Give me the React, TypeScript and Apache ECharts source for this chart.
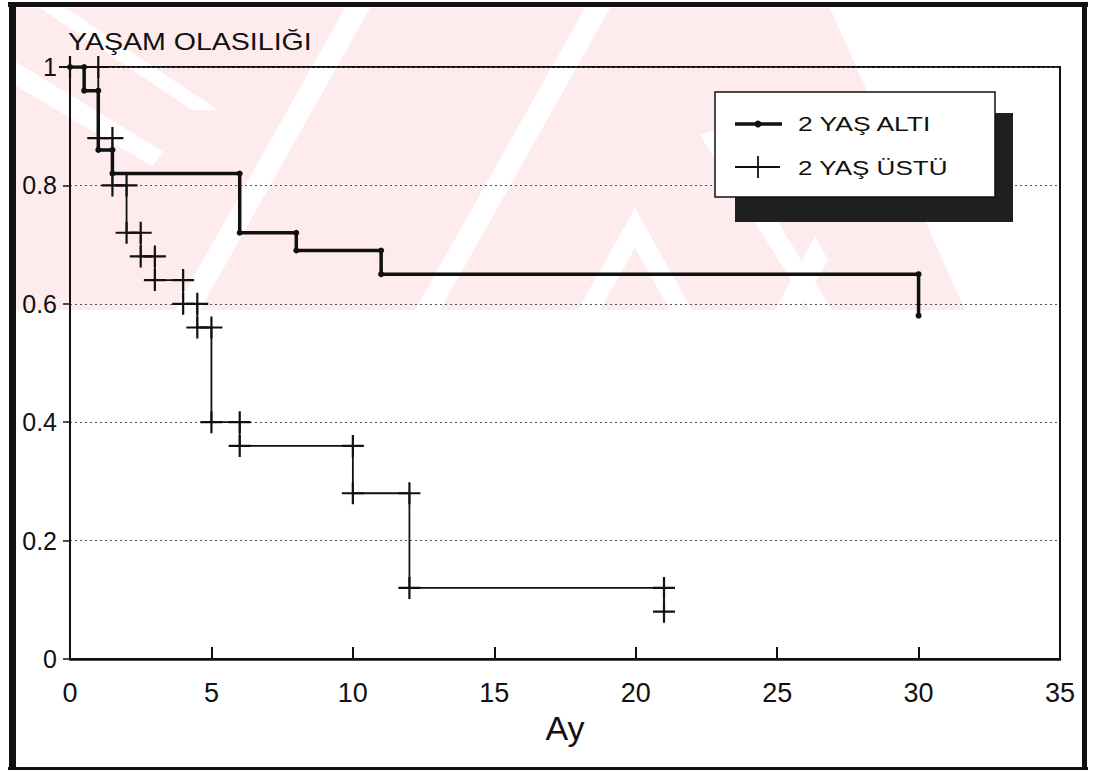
import React, { useEffect, useRef } from 'react';
import * as echarts from 'echarts';

// ---- data ----
const xTicks = [0, 5, 10, 15, 20, 25, 30, 35];
const yTicks = [0, 0.2, 0.4, 0.6, 0.8, 1];
const seriesNames = ['2 YAŞ ALTI', '2 YAŞ ÜSTÜ'];
const titleText = 'YAŞAM OLASILIĞI';
const xName = 'Ay';

// 2 yaş altı: event times (months) and survival after each event
const under2Times = [0, 0.5, 1, 1.5, 6, 8, 11, 30];
const under2Surv = [1, 0.96, 0.86, 0.82, 0.72, 0.69, 0.65, 0.58];

// 2 yaş üstü
const over2Times = [0, 1, 1.5, 2, 2.5, 3, 4, 4.5, 5, 6, 10, 12, 21];
const over2Surv = [1, 0.88, 0.8, 0.72, 0.68, 0.64, 0.6, 0.56, 0.4, 0.36, 0.28, 0.12, 0.08];

function stepPoints(times: number[], surv: number[]) {
  const pts: number[][] = [[times[0], surv[0]]];
  for (let i = 1; i < times.length; i++) {
    pts.push([times[i], surv[i - 1]]);
    pts.push([times[i], surv[i]]);
  }
  return pts;
}

const PLUS = 'path://M9,0 H11 V9 H20 V11 H11 V20 H9 V11 H0 V9 H9 Z';
const FONT = '"Liberation Sans", Arial, Helvetica, sans-serif';
const INK = '#111111';
const PINK = '#fdebee';

function wm(points: number[][], fill: string, z: number) {
  return { type: 'polygon', z, silent: true, shape: { points }, style: { fill } };
}

export default function App() {
  const ref = useRef<HTMLDivElement>(null);

  useEffect(() => {
    if (!ref.current) return;
    const chart = echarts.init(ref.current, undefined, { renderer: 'svg' });

    const watermark = [
      wm([[16, 8], [830, 8], [965, 310], [16, 310]], PINK, -20),
      wm([[40, 8], [66, 8], [218, 110], [192, 110]], '#ffffff', -19),
      wm([[16, 62], [16, 86], [152, 166], [164, 152]], '#ffffff', -19),
      wm([[175, 310], [200, 310], [370, 8], [345, 8]], '#ffffff', -19),
      wm([[415, 310], [440, 310], [610, 8], [585, 8]], '#ffffff', -19),
      wm([[775, 310], [800, 310], [828, 260], [815, 236]], '#ffffff', -19),
      wm([[578, 310], [635, 208], [692, 310], [670, 310], [635, 248], [600, 310]], '#ffffff', -19),
      wm([[700, 135], [720, 128], [832, 310], [810, 310]], '#ffffff', -19),
    ];

    const frame = [
      { type: 'rect', z: 60, shape: { x: 8, y: 2, width: 1080, height: 5 }, style: { fill: INK } },
      { type: 'rect', z: 60, shape: { x: 9, y: 2, width: 7, height: 768 }, style: { fill: INK } },
      { type: 'rect', z: 60, shape: { x: 1082, y: 2, width: 5, height: 768 }, style: { fill: INK } },
      { type: 'rect', z: 60, shape: { x: 8, y: 767, width: 1080, height: 3 }, style: { fill: INK } },
    ];

    const legend = [
      { type: 'rect', z: 50, shape: { x: 735, y: 113, width: 278, height: 109 }, style: { fill: '#1f1f1f' } },
      { type: 'rect', z: 51, shape: { x: 715, y: 92, width: 280, height: 105 }, style: { fill: '#ffffff', stroke: INK, lineWidth: 1.5 } },
      { type: 'line', z: 52, shape: { x1: 735, y1: 124, x2: 782, y2: 124 }, style: { stroke: INK, lineWidth: 3.5 } },
      { type: 'circle', z: 52, shape: { cx: 758, cy: 124, r: 3.5 }, style: { fill: INK } },
      { type: 'text', z: 52, x: 798, y: 124, scaleX: 1.26, style: { text: seriesNames[0], fill: INK, fontSize: 21, fontFamily: FONT, verticalAlign: 'middle', align: 'left' } },
      { type: 'line', z: 52, shape: { x1: 735, y1: 167, x2: 780, y2: 167 }, style: { stroke: INK, lineWidth: 1.8 } },
      { type: 'line', z: 52, shape: { x1: 758, y1: 156, x2: 758, y2: 178 }, style: { stroke: INK, lineWidth: 1.8 } },
      { type: 'text', z: 52, x: 798, y: 168, scaleX: 1.24, style: { text: seriesNames[1], fill: INK, fontSize: 21, fontFamily: FONT, verticalAlign: 'middle', align: 'left' } },
    ];

    const title = [
      { type: 'text', z: 52, x: 68, y: 42, scaleX: 1.19, style: { text: titleText, fill: INK, fontSize: 24, fontFamily: FONT, verticalAlign: 'middle', align: 'left' } },
    ];

    chart.setOption({
      animation: false,
      backgroundColor: '#ffffff',
      grid: {
        left: 70, right: 34, top: 67, bottom: 113,
        show: true, borderColor: INK, borderWidth: 2, backgroundColor: 'transparent',
      },
      xAxis: {
        type: 'value',
        min: xTicks[0],
        max: xTicks[xTicks.length - 1],
        interval: xTicks[1] - xTicks[0],
        name: xName,
        nameLocation: 'middle',
        nameGap: 52,
        nameTextStyle: { fontSize: 34, color: INK, fontFamily: FONT },
        axisLine: { lineStyle: { color: INK, width: 2.5 } },
        axisTick: { inside: true, length: 12, lineStyle: { color: INK, width: 2 } },
        axisLabel: { fontSize: 27, color: INK, fontFamily: FONT, margin: 20 },
        splitLine: { show: false },
      },
      yAxis: {
        type: 'value',
        min: yTicks[0],
        max: yTicks[yTicks.length - 1],
        interval: yTicks[1] - yTicks[0],
        axisLine: { show: true, lineStyle: { color: INK, width: 2 } },
        axisTick: { show: true, length: 7, lineStyle: { color: INK, width: 1.5 } },
        axisLabel: { fontSize: 25, color: INK, fontFamily: FONT, margin: 13 },
        splitLine: { show: true, lineStyle: { color: '#555555', width: 1, type: [2, 3] } },
      },
      series: [
        {
          name: seriesNames[0],
          type: 'line',
          data: stepPoints(under2Times, under2Surv),
          symbol: 'circle',
          symbolSize: 6,
          showSymbol: true,
          lineStyle: { color: INK, width: 3.5 },
          itemStyle: { color: INK },
          z: 4,
        },
        {
          name: seriesNames[1],
          type: 'line',
          data: stepPoints(over2Times, over2Surv),
          symbol: PLUS,
          symbolSize: 22,
          showSymbol: true,
          lineStyle: { color: INK, width: 1.8 },
          itemStyle: { color: INK },
          z: 3,
        },
      ],
      graphic: { elements: [...watermark, ...frame, ...legend, ...title] },
    });

    return () => chart.dispose();
  }, []);

  return <div ref={ref} style={{ position: 'fixed', left: 0, top: 0, width: 1094, height: 772 }} />;
}
